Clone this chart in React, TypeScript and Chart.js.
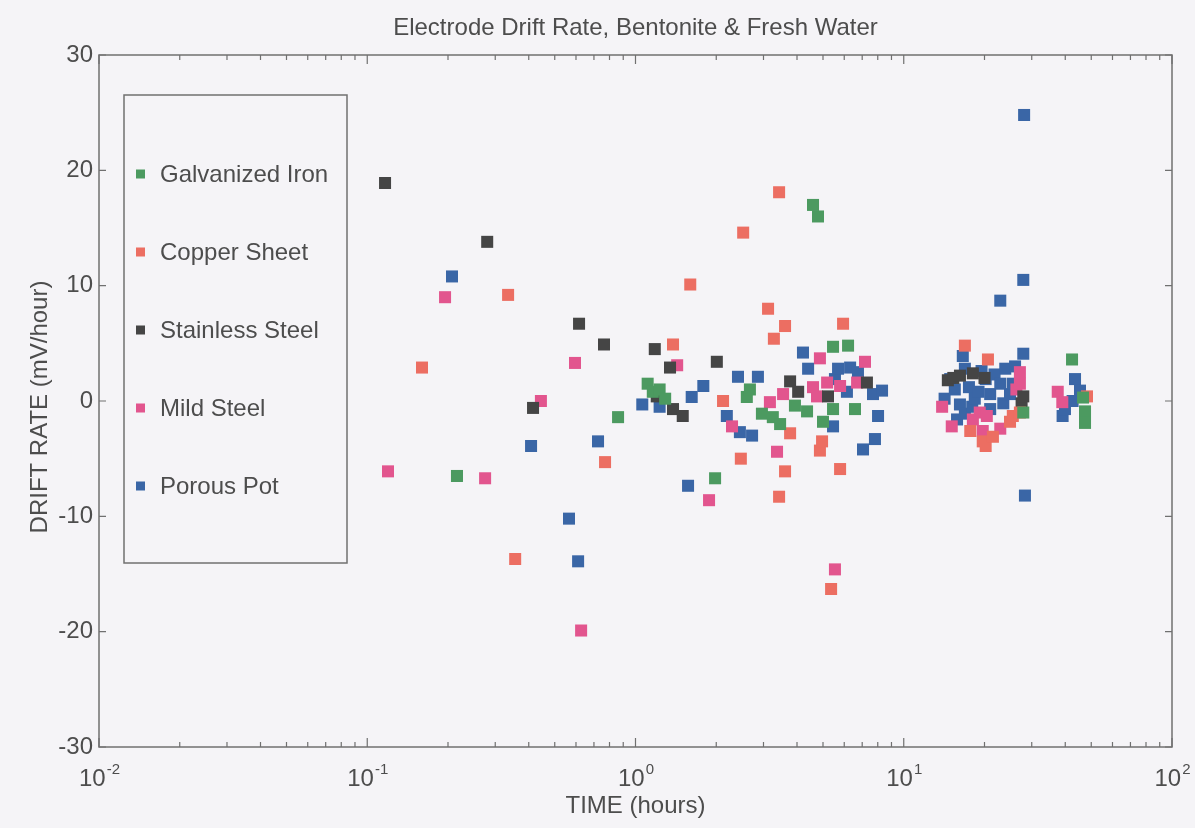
import React, { useEffect, useRef } from "react";
import { Chart, registerables } from "chart.js";

Chart.register(...registerables);

// Series: [time (hours), drift rate (mV/hour)]
const GALVANIZED_IRON: [number, number][] = [
  [0.216, -6.5], [0.861, -1.4], [1.11, 1.5], [1.16, 0.8], [1.23, 1.0], [1.29, 0.2],
  [1.98, -6.7], [2.6, 0.35], [2.67, 1.0], [2.96, -1.1], [3.25, -1.4], [3.46, -2.0],
  [3.93, -0.4], [4.36, -0.9], [4.59, 17.0], [4.79, 16.0], [5.0, -1.8], [5.45, 4.7],
  [5.45, -0.7], [6.2, 4.8], [6.58, -0.7], [27.9, -1.0], [42.4, 3.6], [46.6, 0.3],
  [47.4, -0.9], [47.4, -1.9],
];

const COPPER_SHEET: [number, number][] = [
  [0.16, 2.9], [0.335, 9.2], [0.356, -13.7], [0.77, -5.3], [1.38, 4.9], [1.6, 10.1],
  [2.12, 0.0], [2.47, -5.0], [2.52, 14.6], [3.12, 8.0], [3.28, 5.4], [3.43, 18.1],
  [3.43, -8.3], [3.61, 6.5], [3.61, -6.1], [3.77, -2.8], [4.87, -4.3], [4.96, -3.5],
  [5.36, -16.3], [5.79, -5.9], [5.94, 6.7], [16.9, 4.8], [17.7, -2.6], [19.7, -3.5],
  [20.2, -3.9], [20.6, 3.6], [21.5, -3.1], [24.9, -1.8], [25.5, -1.3], [27.1, -1.0],
  [48.2, 0.4],
];

const STAINLESS_STEEL: [number, number][] = [
  [0.1165, 18.9], [0.28, 13.8], [0.415, -0.6], [0.616, 6.7], [0.763, 4.9], [1.18, 4.5],
  [1.2, 0.4], [1.345, 2.9], [1.38, -0.7], [1.5, -1.3], [2.01, 3.4], [3.77, 1.7],
  [4.04, 0.8], [5.22, 0.4], [7.29, 1.6], [14.6, 1.8], [15.3, 2.0], [16.2, 2.2],
  [18.1, 2.4], [20.0, 2.0], [27.5, -0.2], [27.9, 0.4],
];

const MILD_STEEL: [number, number][] = [
  [0.1195, -6.1], [0.195, 9.0], [0.275, -6.7], [0.444, 0.0], [0.595, 3.3], [0.627, -19.9],
  [1.43, 3.1], [1.88, -8.6], [2.29, -2.2], [3.17, -0.1], [3.37, -4.4], [3.55, 0.6],
  [4.59, 1.2], [4.75, 0.4], [4.87, 3.7], [5.18, 1.6], [5.54, -14.6], [5.79, 1.3],
  [6.7, 1.6], [7.17, 3.4], [13.9, -0.5], [15.1, -2.2], [18.1, -1.6], [19.2, -1.0],
  [19.7, -2.6], [20.4, -1.3], [22.9, -2.4], [26.3, 1.0], [27.1, 1.5], [27.1, 2.5],
  [37.5, 0.8], [39.0, -0.1],
];

const POROUS_POT: [number, number][] = [
  [0.207, 10.8], [0.408, -3.9], [0.565, -10.2], [0.611, -13.9], [0.725, -3.5], [1.06, -0.3],
  [1.23, -0.5], [1.57, -7.35], [1.62, 0.35], [1.79, 1.3], [2.19, -1.3], [2.41, 2.1],
  [2.45, -2.7], [2.72, -3.0], [2.86, 2.1], [4.21, 4.2], [4.4, 2.8], [5.45, -2.2],
  [5.54, 1.9], [5.69, 2.8], [6.14, 0.8], [6.31, 2.9], [6.75, 2.5], [7.05, -4.2],
  [7.68, 0.6], [7.81, -3.3], [8.02, -1.3], [8.3, 0.9], [14.2, 0.2], [14.9, 1.9],
  [15.5, 1.0], [15.8, -1.6], [16.2, -0.3], [16.6, 3.9], [16.9, 2.8], [16.9, -1.1],
  [17.5, 1.2], [18.0, -0.5], [18.4, 0.2], [19.0, 0.8], [19.5, 2.6], [20.2, 1.9],
  [21.0, 0.6], [21.0, -0.7], [21.8, 2.3], [22.9, 1.5], [22.9, 8.7], [23.5, -0.2],
  [23.9, 2.8], [24.9, 0.6], [25.5, 1.5], [26.0, 3.0], [27.9, 4.1], [27.9, 10.5],
  [28.1, 24.8], [28.3, -8.2], [39.1, -1.3], [39.9, -0.7], [42.6, 0.0], [43.5, 1.9],
  [45.4, 0.9],
];

const SERIES_NAMES = ["Galvanized Iron", "Copper Sheet", "Stainless Steel", "Mild Steel", "Porous Pot"];
const SERIES_DATA = [GALVANIZED_IRON, COPPER_SHEET, STAINLESS_STEEL, MILD_STEEL, POROUS_POT];
const SERIES_COLORS = ["#4c9a60", "#ec6e62", "#454545", "#e2558e", "#3a66a6"];

const Y_TICKS = [-30, -20, -10, 0, 10, 20, 30];
const X_DECADES = [0.01, 0.1, 1, 10, 100];
const X_EXPONENTS = ["-2", "-1", "0", "1", "2"];

const TITLE = "Electrode Drift Rate, Bentonite & Fresh Water";
const X_TITLE = "TIME (hours)";
const Y_TITLE = "DRIFT RATE (mV/hour)";

const FONT = '"Liberation Sans", Arial, Helvetica, sans-serif';
const INK = "#4d4d4d";
const FRAME = "#707070";

const framePlugin = {
  id: "framePlugin",
  afterDraw(chart: any) {
    const { ctx, chartArea, scales } = chart;
    const { left, right, top, bottom } = chartArea;
    const xs = scales.x;
    const ys = scales.y;
    ctx.save();

    // box
    ctx.strokeStyle = FRAME;
    ctx.lineWidth = 1.5;
    ctx.strokeRect(left, top, right - left, bottom - top);

    // y ticks (inward on both sides) and labels
    ctx.lineWidth = 1.2;
    ctx.fillStyle = INK;
    ctx.font = `24px ${FONT}`;
    ctx.textAlign = "right";
    ctx.textBaseline = "middle";
    Y_TICKS.forEach((v) => {
      const py = ys.getPixelForValue(v);
      ctx.beginPath();
      ctx.moveTo(left, py);
      ctx.lineTo(left + 7, py);
      ctx.moveTo(right, py);
      ctx.lineTo(right - 7, py);
      ctx.stroke();
      ctx.fillText(String(v), left - 6, py);
    });

    // x ticks: decades and minor ticks, inward on bottom and top
    X_DECADES.forEach((d, i) => {
      const px = xs.getPixelForValue(d);
      ctx.beginPath();
      ctx.moveTo(px, bottom);
      ctx.lineTo(px, bottom - 9);
      ctx.moveTo(px, top);
      ctx.lineTo(px, top + 9);
      ctx.stroke();
      if (i < X_DECADES.length - 1) {
        for (let m = 2; m <= 9; m++) {
          const mx = xs.getPixelForValue(d * m);
          ctx.beginPath();
          ctx.moveTo(mx, bottom);
          ctx.lineTo(mx, bottom - 5);
          ctx.moveTo(mx, top);
          ctx.lineTo(mx, top + 5);
          ctx.stroke();
        }
      }
      // label "10" with superscript exponent
      ctx.textBaseline = "alphabetic";
      ctx.textAlign = "left";
      ctx.font = `24px ${FONT}`;
      const baseW = ctx.measureText("10").width;
      ctx.font = `15px ${FONT}`;
      const expW = ctx.measureText(X_EXPONENTS[i]).width;
      const startX = px - (baseW + expW) / 2;
      ctx.font = `24px ${FONT}`;
      ctx.fillText("10", startX, bottom + 39);
      ctx.font = `15px ${FONT}`;
      ctx.fillText(X_EXPONENTS[i], startX + baseW + 1, bottom + 27);
    });

    // titles
    ctx.textAlign = "center";
    ctx.textBaseline = "middle";
    ctx.font = `24px ${FONT}`;
    ctx.fillText(TITLE, (left + right) / 2, 28);
    ctx.fillText(X_TITLE, (left + right) / 2, bottom + 59);
    ctx.save();
    ctx.translate(40, (top + bottom) / 2 + 6);
    ctx.rotate(-Math.PI / 2);
    ctx.fillText(Y_TITLE, 0, 0);
    ctx.restore();

    // legend box inside the plot area
    const lx = 124;
    const ly = 95;
    const lw = 223;
    const lh = 468;
    ctx.strokeStyle = FRAME;
    ctx.lineWidth = 1.5;
    ctx.strokeRect(lx, ly, lw, lh);
    ctx.textAlign = "left";
    ctx.textBaseline = "middle";
    ctx.font = `24px ${FONT}`;
    chart.data.datasets.forEach((ds: any, i: number) => {
      const ey = 174 + i * 78;
      ctx.fillStyle = ds.backgroundColor;
      ctx.fillRect(136, ey - 4.5, 9, 9);
      ctx.fillStyle = INK;
      ctx.fillText(ds.label, 160, ey + 1);
    });

    ctx.restore();
  },
};

export default function App() {
  const canvasRef = useRef<HTMLCanvasElement | null>(null);

  useEffect(() => {
    document.body.style.margin = "0";
    const canvas = canvasRef.current;
    if (!canvas) return;
    const chart = new Chart(canvas, {
      type: "scatter",
      data: {
        datasets: SERIES_NAMES.map((name, i) => ({
          label: name,
          data: SERIES_DATA[i].map(([x, y]) => ({ x, y })),
          backgroundColor: SERIES_COLORS[i],
          borderColor: SERIES_COLORS[i],
          pointStyle: "rect",
          pointRadius: 8.5,
          pointBorderWidth: 0,
          pointHoverRadius: 8.5,
        })),
      },
      options: {
        responsive: false,
        animation: false,
        devicePixelRatio: 1,
        layout: { padding: { left: 99, right: 23, top: 55, bottom: 81 } },
        plugins: {
          legend: { display: false },
          tooltip: { enabled: false },
          title: { display: false },
        },
        scales: {
          x: { type: "logarithmic", min: 0.01, max: 100, display: false },
          y: { type: "linear", min: -30, max: 30, display: false },
        },
      },
      plugins: [framePlugin],
    });
    return () => chart.destroy();
  }, []);

  return (
    <div
      style={{
        position: "fixed",
        left: 0,
        top: 0,
        width: 1195,
        height: 828,
        background: "#f5f4f7",
      }}
    >
      <canvas ref={canvasRef} width={1195} height={828} />
    </div>
  );
}
